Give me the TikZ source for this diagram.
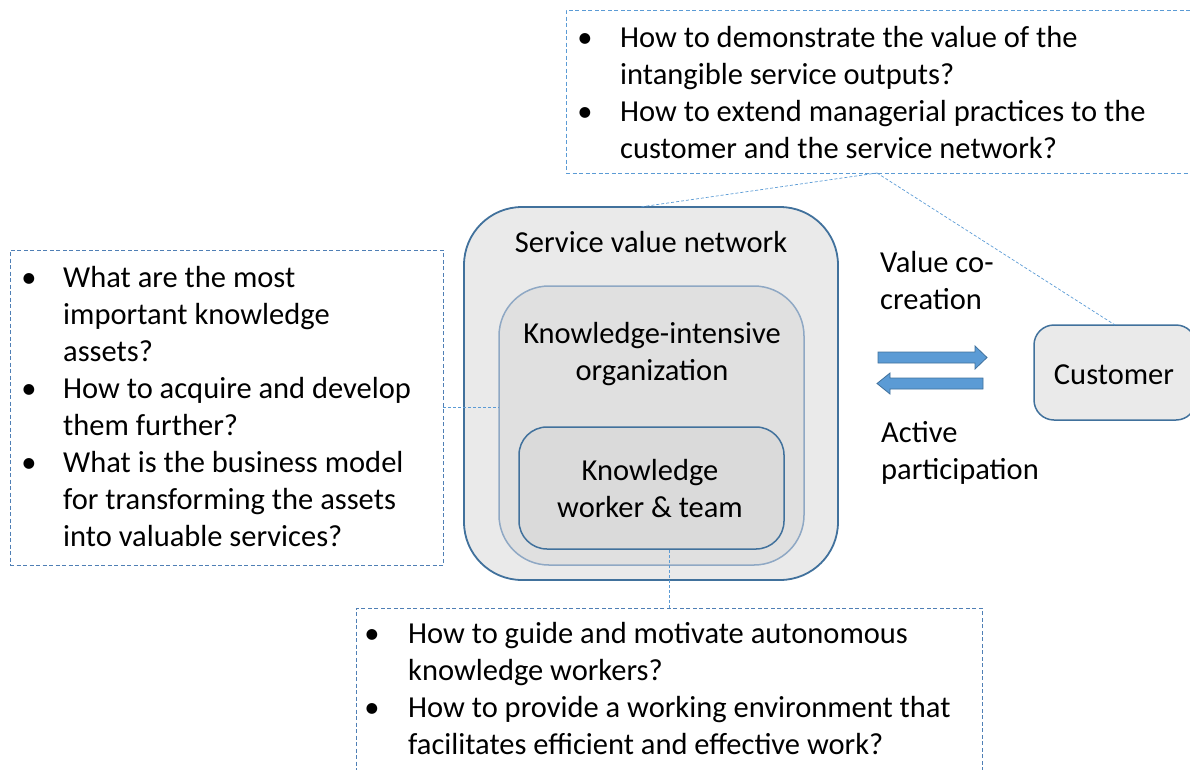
\documentclass[tikz,border=0pt]{standalone}
\usepackage{fontspec}
\setmainfont{Carlito}
\usetikzlibrary{calc}
\definecolor{boxblue}{HTML}{41719C}
\definecolor{lightblue}{HTML}{5B9BD5}
\definecolor{midblue}{HTML}{4F7FB5}
\definecolor{kioedge}{HTML}{8FA8C4}
\definecolor{svnfill}{HTML}{EAEAEA}
\definecolor{kiofill}{HTML}{E0E0E0}
\definecolor{kwfill}{HTML}{DADADA}
\tikzset{
  boxbase/.style={rectangle, anchor=north west, inner sep=0pt, outer sep=0pt},
  qboxtop/.style={boxbase, draw=lightblue, line width=1pt, dash pattern=on 4pt off 2.5pt},
  qbox/.style={boxbase, draw=midblue, line width=1pt, dash pattern=on 4pt off 2.5pt},
  conn/.style={draw=lightblue, line width=0.7pt, dash pattern=on 3pt off 2pt},
  txt/.style={font=\fontsize{30.5}{37}\selectfont, inner sep=0pt, align=left, anchor=north west},
  ctxt/.style={font=\fontsize{30.5}{37}\selectfont, inner sep=0pt, align=center, anchor=north},
  bul/.style={font=\fontsize{30.5}{37}\selectfont, inner sep=0pt, anchor=north},
  blockarrow/.style={fill=lightblue, draw=boxblue, line width=0.8pt, line join=miter},
}
\begin{document}
\begin{tikzpicture}[x=1pt,y=-1pt]
\useasboundingbox (0,0) rectangle (1190,769);
\clip (0,0) rectangle (1190,769);

% question boxes
\node[qboxtop, minimum width=640pt, minimum height=163pt] (topq) at (566,10) {};
\node[qbox, minimum width=433pt, minimum height=315pt] (leftq) at (10,250) {};
\node[qbox, minimum width=626pt, minimum height=200pt] (botq) at (356,608) {};

% nested boxes
\node[boxbase, draw=boxblue, line width=1.8pt, fill=svnfill, rounded corners=58pt,
      minimum width=374pt, minimum height=373pt] (svn) at (464,207) {};
\node[boxbase, draw=kioedge, line width=1.5pt, fill=kiofill, rounded corners=50pt,
      minimum width=305pt, minimum height=279pt] (kio) at (499,286) {};
\node[boxbase, draw=boxblue, line width=1.5pt, fill=kwfill, rounded corners=28pt,
      minimum width=265pt, minimum height=122pt] (kw) at (519,427) {};
\node[boxbase, draw=boxblue, line width=1.5pt, fill=svnfill, rounded corners=20pt,
      minimum width=162pt, minimum height=95pt] (cust) at (1034,325) {};

% box texts
\node[ctxt] (svnt) at (651,226.1) {\strut Service value network};
\node[ctxt] (kiot) at (652,317.1) {\strut Knowledge-intensive\\organization};
\node[ctxt] (kwt) at (650,454.1) {\strut Knowledge\\worker \& team};
\node[ctxt] (custt) at (1114,358.1) {\strut Customer};

% side labels
\node[txt] (vcc) at (880,246.1) {\strut Value co-\\creation};
\node[txt] (ap) at (881,416.1) {\strut Active\\participation};

% block arrows
\draw[blockarrow] (878,352) -- (975,352) -- (975,346) -- (987,357.5) -- (975,369) -- (975,363) -- (878,363) -- cycle;
\draw[blockarrow] (983,378) -- (890,378) -- (890,373) -- (877,383.5) -- (890,394) -- (890,389) -- (983,389) -- cycle;

% top question texts
\node[bul] (tb1) at (585,21.1) {\strut •};
\node[txt] (tq1) at (620,21.1) {\strut How to demonstrate the value of the\\intangible service outputs?};
\node[bul] (tb2) at (585,95.1) {\strut •};
\node[txt] (tq2) at (620,95.1) {\strut How to extend managerial practices to the\\customer and the service network?};

% left question texts
\node[bul] (lb1) at (29,261.1) {\strut •};
\node[txt] (lq1) at (63,261.1) {\strut What are the most\\important knowledge\\assets?};
\node[bul] (lb2) at (29,372.1) {\strut •};
\node[txt] (lq2) at (63,372.1) {\strut How to acquire and develop\\them further?};
\node[bul] (lb3) at (29,446.1) {\strut •};
\node[txt] (lq3) at (63,446.1) {\strut What is the business model\\for transforming the assets\\into valuable services?};

% bottom question texts
\node[bul] (bb1) at (372,617.1) {\strut •};
\node[txt] (bq1) at (408,617.1) {\strut How to guide and motivate autonomous\\knowledge workers?};
\node[bul] (bb2) at (372,691.1) {\strut •};
\node[txt] (bq2) at (408,691.1) {\strut How to provide a working environment that\\facilitates efficient and effective work?};

% connectors
\coordinate (tqc) at ([xshift=-9pt]topq.south);
\draw[conn] (tqc) -- ([xshift=-11pt]svn.north);
\draw[conn] (tqc) -- (cust.north);
\draw[conn] (leftq.east) -- (leftq.east -| kio.west);
\draw[conn] (botq.north) -- (botq.north |- kw.south);
\end{tikzpicture}
\end{document}
